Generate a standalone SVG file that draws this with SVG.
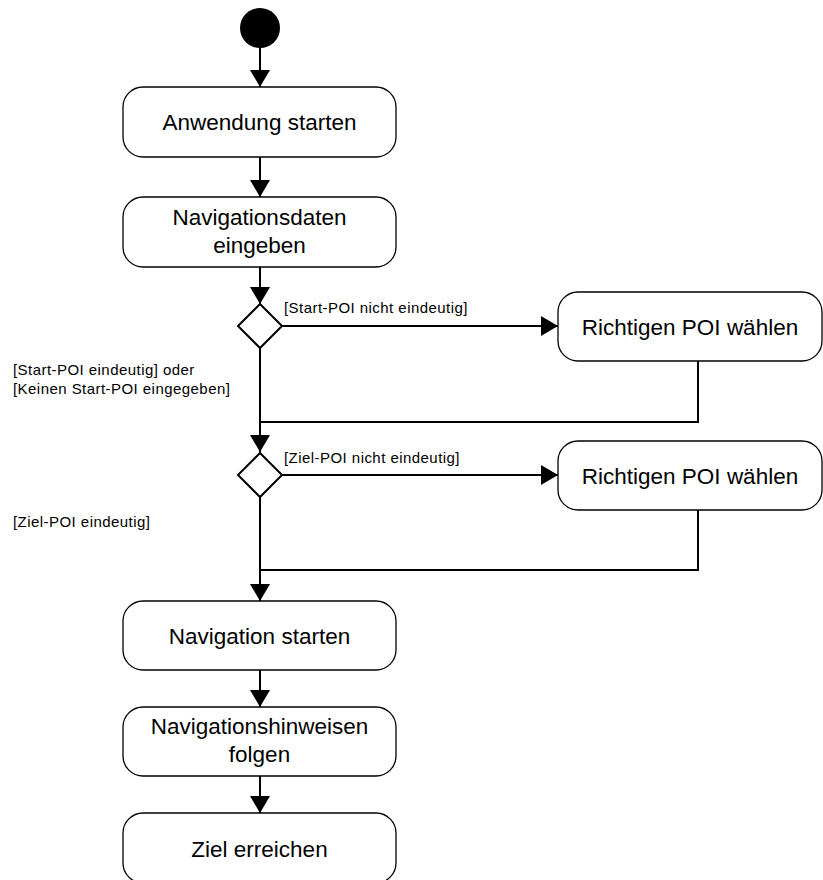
<svg xmlns="http://www.w3.org/2000/svg" width="823" height="880" viewBox="0 0 823 880">
  <style>
    .box { fill: #ffffff; stroke: #000000; stroke-width: 1.3; }
    .dec { fill: #ffffff; stroke: #000000; stroke-width: 2; }
    .flow { fill: none; stroke: #000000; stroke-width: 2; }
    .t { font-family: "Liberation Sans", Arial, sans-serif; font-size: 22.5px; fill: #000000; text-anchor: middle; }
    .g { font-family: "Liberation Sans", Arial, sans-serif; font-size: 15px; letter-spacing: 0.45px; fill: #000000; }
  </style>
  <defs>
    <marker id="arrow" viewBox="0 0 17 20" refX="17" refY="10" markerWidth="17" markerHeight="20" markerUnits="userSpaceOnUse" orient="auto">
      <path d="M0,0 L17,10 L0,20 Z" fill="#000000"/>
    </marker>
  </defs>
  <rect width="823" height="880" fill="#ffffff"/>

  <!-- connectors -->
  <g id="connectors">
    <line class="flow" x1="260" y1="46" x2="260" y2="87" marker-end="url(#arrow)"/>
    <line class="flow" x1="260" y1="157" x2="260" y2="197" marker-end="url(#arrow)"/>
    <line class="flow" x1="260" y1="267" x2="260" y2="304" marker-end="url(#arrow)"/>
    <line class="flow" x1="282" y1="326" x2="558" y2="326" marker-end="url(#arrow)"/>
    <polyline class="flow" points="698,361 698,422 260,422"/>
    <line class="flow" x1="260" y1="348" x2="260" y2="452" marker-end="url(#arrow)"/>
    <line class="flow" x1="282" y1="475" x2="558" y2="475" marker-end="url(#arrow)"/>
    <polyline class="flow" points="698,510 698,570 260,570"/>
    <line class="flow" x1="260" y1="497" x2="260" y2="601" marker-end="url(#arrow)"/>
    <line class="flow" x1="260" y1="670" x2="260" y2="707" marker-end="url(#arrow)"/>
    <line class="flow" x1="260" y1="776" x2="260" y2="813" marker-end="url(#arrow)"/>
    <text class="g" x="284" y="313">[Start-POI nicht eindeutig]</text>
    <text class="g" x="13" y="375">[Start-POI eindeutig] oder</text>
    <text class="g" x="13" y="394">[Keinen Start-POI eingegeben]</text>
    <text class="g" x="284" y="463">[Ziel-POI nicht eindeutig]</text>
    <text class="g" x="13" y="527">[Ziel-POI eindeutig]</text>
  </g>

  <!-- nodes -->
  <g id="start">
    <circle cx="260" cy="28" r="20" fill="#000000"/>
  </g>
  <g id="anwendung-starten">
    <rect class="box" x="123" y="87" width="273" height="70" rx="20"/>
    <text class="t" x="259.5" y="130">Anwendung starten</text>
  </g>
  <g id="navigationsdaten-eingeben">
    <rect class="box" x="123" y="197" width="273" height="70" rx="20"/>
    <text class="t" x="259.5" y="225">Navigationsdaten</text>
    <text class="t" x="259.5" y="253">eingeben</text>
  </g>
  <g id="entscheidung-start">
    <polygon class="dec" points="260,304 282,326 260,348 238,326"/>
  </g>
  <g id="poi-waehlen-start">
    <rect class="box" x="558" y="292" width="264" height="69" rx="20"/>
    <text class="t" x="690" y="335">Richtigen POI wählen</text>
  </g>
  <g id="entscheidung-ziel">
    <polygon class="dec" points="260,453 282,475 260,497 238,475"/>
  </g>
  <g id="poi-waehlen-ziel">
    <rect class="box" x="558" y="441" width="264" height="69" rx="20"/>
    <text class="t" x="690" y="484">Richtigen POI wählen</text>
  </g>
  <g id="navigation-starten">
    <rect class="box" x="123" y="601" width="273" height="69" rx="20"/>
    <text class="t" x="259.5" y="644">Navigation starten</text>
  </g>
  <g id="hinweisen-folgen">
    <rect class="box" x="123" y="707" width="273" height="69" rx="20"/>
    <text class="t" x="259.5" y="734">Navigationshinweisen</text>
    <text class="t" x="259.5" y="762">folgen</text>
  </g>
  <g id="ziel-erreichen">
    <rect class="box" x="123" y="813" width="273" height="70" rx="20"/>
    <text class="t" x="259.5" y="857">Ziel erreichen</text>
  </g>
</svg>
